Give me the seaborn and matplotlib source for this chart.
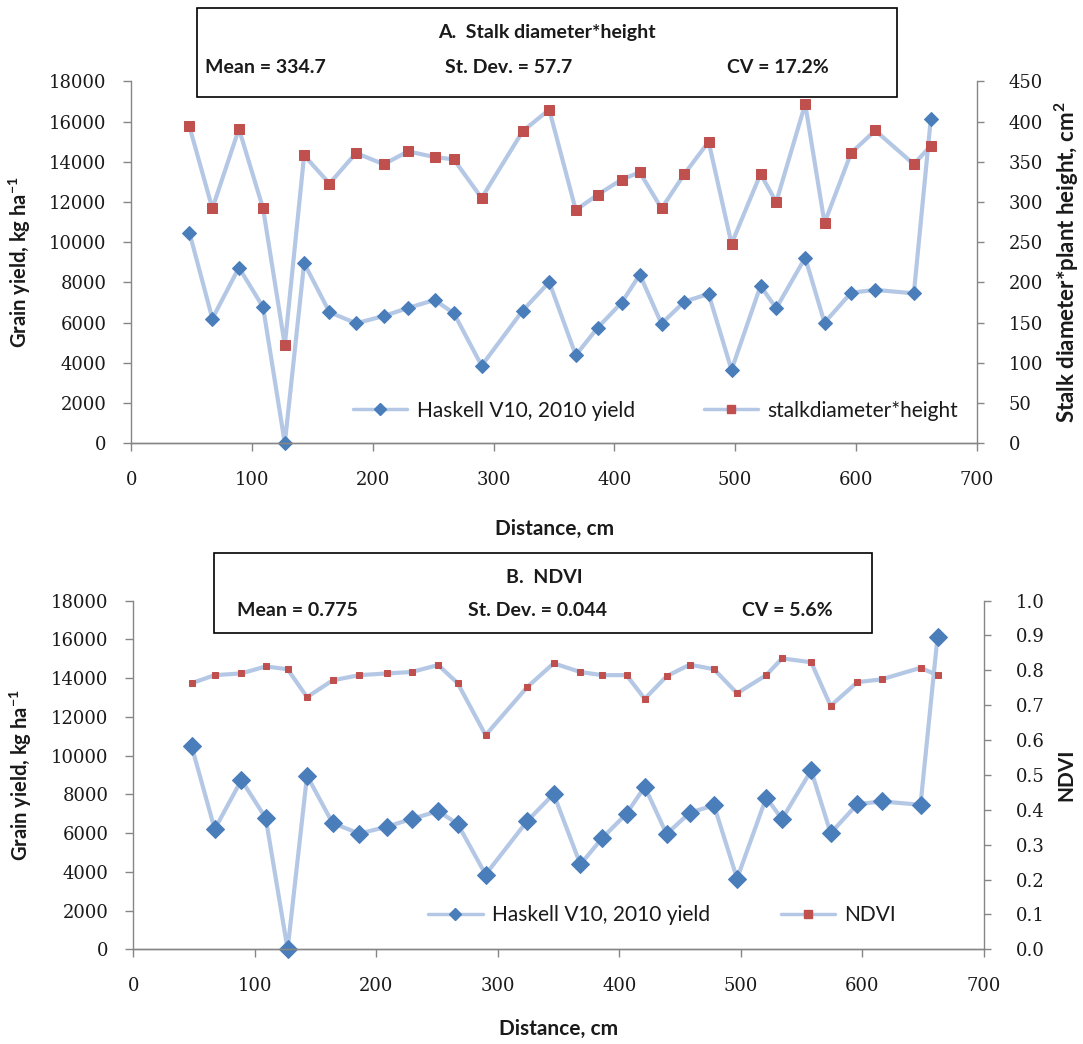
import matplotlib
matplotlib.use("Agg")
import matplotlib.pyplot as plt
import seaborn as sns
from matplotlib.lines import Line2D
from matplotlib.patches import Rectangle

# ---------------------------------------------------------------
# Data
# ---------------------------------------------------------------
distance = [48, 67, 89, 109, 127, 143, 164, 186, 209, 229, 251, 267, 290,
            324, 346, 368, 386, 406, 421, 439, 458, 478, 497, 521, 534,
            558, 574, 596, 616, 648, 662]

grain_yield = [10480, 6200, 8740, 6770, 0, 8960, 6520, 5970, 6330, 6730,
               7130, 6470, 3860, 6600, 8020, 4380, 5740, 7000, 8390, 5950,
               7050, 7430, 3650, 7830, 6720, 9230, 6000, 7490, 7630, 7460,
               16120]

stalk_dh = [394, 292, 391, 292, 122, 358, 323, 361, 347, 363, 356, 353, 305,
            388, 415, 290, 309, 328, 337, 292, 335, 375, 248, 335, 300, 422,
            274, 361, 389, 347, 370]

ndvi = [0.763, 0.786, 0.791, 0.811, 0.803, 0.723, 0.771, 0.786, 0.791, 0.795,
        0.815, 0.763, 0.614, 0.751, 0.820, 0.795, 0.786, 0.786, 0.718, 0.783,
        0.816, 0.803, 0.734, 0.786, 0.834, 0.823, 0.698, 0.766, 0.774, 0.807,
        0.786]

x_ticks = [0, 100, 200, 300, 400, 500, 600, 700]
yield_ticks = [0, 2000, 4000, 6000, 8000, 10000, 12000, 14000, 16000, 18000]
stalk_ticks = [0, 50, 100, 150, 200, 250, 300, 350, 400, 450]
ndvi_ticks = [0.0, 0.1, 0.2, 0.3, 0.4, 0.5, 0.6, 0.7, 0.8, 0.9, 1.0]

LINE = "#b4c8e6"
BLUE = "#4a7ebb"
RED = "#c0504d"
SPINE = "#868686"
TEXT = "#1a1a1a"

sns.set_theme(style="white")
plt.rcParams["font.family"] = ["Lato", "DejaVu Sans"]
plt.rcParams["mathtext.default"] = "regular"

fig = plt.figure(figsize=(10.83, 10.44), dpi=100)

TICK_FONT = dict(fontfamily="DejaVu Serif", fontsize=13, color=TEXT)


def style_axis(ax, side):
    for s in ("top", "left", "right", "bottom"):
        ax.spines[s].set_visible(False)
    ax.spines["bottom"].set_visible(True)
    ax.spines[side].set_visible(True)
    for s in ("bottom", side):
        ax.spines[s].set_color(SPINE)
        ax.spines[s].set_linewidth(1.0)


def draw_panel(rect, y2, y2_ticks, y2_fmt, y2_label, y2_name, y2_size,
               ms_d, ms_s, leg_anchor, colspace, ylab_x, y2lab_x, xlab_y):
    ax = fig.add_axes(rect)
    sns.lineplot(x=distance, y=grain_yield, ax=ax, color=LINE, linewidth=3,
                 marker="D", markersize=ms_d, markerfacecolor=BLUE,
                 markeredgecolor=BLUE, clip_on=False)
    ax.set_xlim(0, 700)
    ax.set_ylim(0, 18000)

    ax2 = ax.twinx()
    sns.lineplot(x=distance, y=y2, ax=ax2, color=LINE, linewidth=3,
                 marker="s", markersize=ms_s, markerfacecolor=RED,
                 markeredgecolor=RED, clip_on=False)
    ax2.set_ylim(y2_ticks[0], y2_ticks[-1])

    style_axis(ax, "left")
    style_axis(ax2, "right")

    ax.set_xticks(x_ticks)
    ax.set_xticklabels([str(t) for t in x_ticks], **TICK_FONT)
    ax.set_yticks(yield_ticks)
    ax.set_yticklabels([str(t) for t in yield_ticks], **TICK_FONT)
    ax2.set_yticks(y2_ticks)
    ax2.set_yticklabels([y2_fmt.format(t) for t in y2_ticks], **TICK_FONT)

    ax.tick_params(axis="x", bottom=True, direction="out", length=6,
                   width=1, color=SPINE, pad=14)
    ax.tick_params(axis="y", left=True, direction="out", length=6,
                   width=1, color=SPINE, pad=12)
    ax2.tick_params(axis="y", right=True, direction="out", length=5,
                    width=1, color=SPINE, pad=18)

    ax.set_xlabel("Distance, cm", fontsize=15, fontweight="bold", color=TEXT)
    ax.xaxis.set_label_coords(0.5, xlab_y)
    ax.set_ylabel("Grain yield, kg ha$^{-1}$", fontsize=14.5,
                  fontweight="bold", color=TEXT)
    ax.yaxis.set_label_coords(ylab_x, 0.5)
    ax2.set_ylabel(y2_label, fontsize=y2_size, fontweight="bold", color=TEXT,
                   rotation=90)
    ax2.yaxis.set_label_coords(y2lab_x, 0.5)

    # legend handles: thin line with small marker, like the spreadsheet legend
    handles = [
        Line2D([], [], color=LINE, linewidth=2.5, marker="D", markersize=6,
               markerfacecolor=BLUE, markeredgecolor=BLUE),
        Line2D([], [], color=LINE, linewidth=2.5, marker="s", markersize=5.5,
               markerfacecolor=RED, markeredgecolor=RED),
    ]
    ax2.legend(handles, ["Haskell V10, 2010 yield", y2_name], loc="center",
               bbox_to_anchor=leg_anchor, ncol=2, frameon=False, fontsize=15,
               handlelength=2.6, handletextpad=0.45, columnspacing=colspace,
               labelcolor=TEXT)
    return ax, ax2


draw_panel([0.1214, 0.5754, 0.7804, 0.3466], stalk_dh, stalk_ticks, "{:d}",
           "Stalk diameter*plant height, cm$^2$", "stalkdiameter*height", 16,
           7.5, 6.5, (0.62, 0.09), 3.3, -0.116, 1.09, -0.21)

draw_panel([0.1231, 0.0907, 0.7852, 0.3341], ndvi, ndvi_ticks, "{:.1f}",
           "NDVI", "NDVI", 15,
           9.5, 5.0, (0.622, 0.098), 3.4, -0.117, 1.085, -0.2)

# stats boxes above each panel
BOX_FONT = dict(fontsize=14, fontweight="bold", color=TEXT, va="center")

fig.add_artist(Rectangle((0.1819, 0.9071), 0.6464, 0.0853,
                         transform=fig.transFigure, fill=False,
                         edgecolor="black", linewidth=1.2))
fig.text(0.505, 0.9693, "A.  Stalk diameter*height", ha="center", **BOX_FONT)
fig.text(0.1893, 0.9349, "Mean = 334.7", ha="left", **BOX_FONT)
fig.text(0.4109, 0.9349, "St. Dev. = 57.7", ha="left", **BOX_FONT)
fig.text(0.671, 0.9349, "CV = 17.2%", ha="left", **BOX_FONT)

fig.add_artist(Rectangle((0.1976, 0.3937), 0.6076, 0.0766,
                         transform=fig.transFigure, fill=False,
                         edgecolor="black", linewidth=1.2))
fig.text(0.503, 0.4464, "B.  NDVI", ha="center", **BOX_FONT)
fig.text(0.2188, 0.4148, "Mean = 0.775", ha="left", **BOX_FONT)
fig.text(0.4321, 0.4148, "St. Dev. = 0.044", ha="left", **BOX_FONT)
fig.text(0.6851, 0.4148, "CV = 5.6%", ha="left", **BOX_FONT)

fig.savefig("out.png", dpi=100, facecolor="white")
plt.close(fig)
